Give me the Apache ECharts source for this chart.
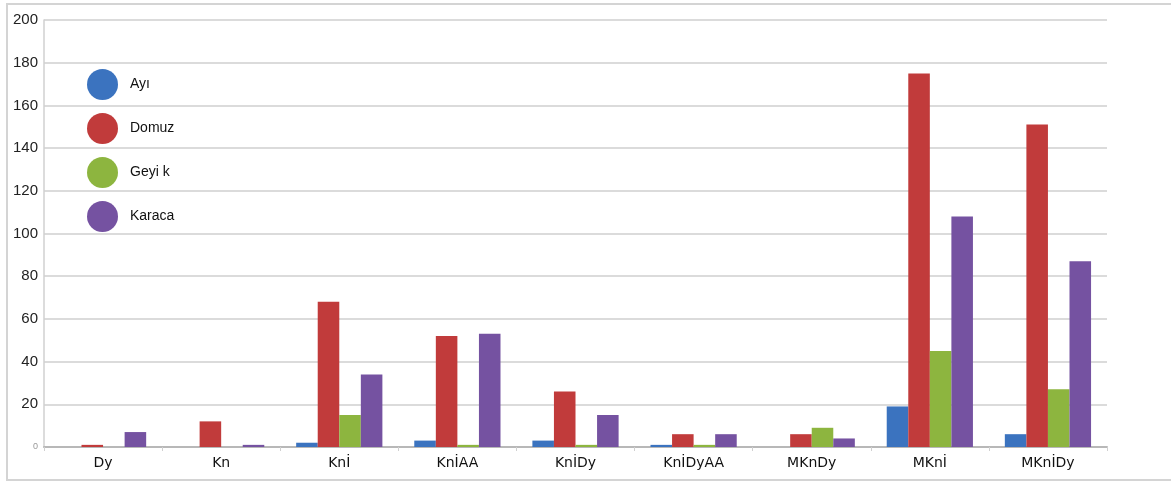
<!DOCTYPE html>
<html>
<head>
<meta charset="utf-8">
<script src="https://cdn.jsdelivr.net/npm/echarts@6/dist/echarts.min.js"></script>
<style>
html,body{margin:0;padding:0;background:#fff;}
#c{width:1171px;height:483px;}
</style>
</head>
<body>
<div id="c"></div>
<script>
var categories = ['Dy', 'Kn', 'Knİ', 'KnİAA', 'KnİDy', 'KnİDyAA', 'MKnDy', 'MKnİ', 'MKnİDy'];
var seriesNames = ['Ayı', 'Domuz', 'Geyik', 'Karaca'];
var ayi    = [0, 0, 2, 3, 3, 1, 0, 19, 6];
var domuz  = [1, 12, 68, 52, 26, 6, 6, 175, 151];
var geyik  = [0, 0, 15, 1, 1, 1, 9, 45, 27];
var karaca = [7, 1, 34, 53, 15, 6, 4, 108, 87];
var yTicks = [0, 20, 40, 60, 80, 100, 120, 140, 160, 180, 200];
var legendLabels = ['Ayı', 'Domuz', 'Geyi k', 'Karaca'];

var colors = ['#3b73bf', '#c13b3b', '#8db53f', '#7552a1'];
var allData = [ayi, domuz, geyik, karaca];

var chart = echarts.init(document.getElementById('c'));
chart.setOption({
  animation: false,
  backgroundColor: '#ffffff',
  graphic: [{
    type: 'rect',
    shape: { x: 7, y: 4, width: 1170, height: 476 },
    style: { fill: 'none', stroke: '#d4d4d4', lineWidth: 2 },
    z: -1
  }],
  grid: { left: 44, right: 64, top: 20, bottom: 36, containLabel: false },
  legend: {
    orient: 'vertical',
    left: 82,
    top: 64,
    icon: 'circle',
    itemWidth: 31,
    itemHeight: 31,
    itemGap: 13,
    data: seriesNames,
    formatter: function (n) { return legendLabels[seriesNames.indexOf(n)]; },
    textStyle: { fontFamily: 'Liberation Sans, Arial, sans-serif', fontSize: 14, color: '#111', padding: [0, 0, 0, 7] }
  },
  xAxis: {
    type: 'category',
    data: categories,
    axisLine: { show: true, lineStyle: { color: '#b8b8b8', width: 2 } },
    axisTick: { show: true, alignWithLabel: false, length: 4, lineStyle: { color: '#d0d0d0' } },
    axisLabel: { fontFamily: 'DejaVu Sans, sans-serif', fontSize: 14, color: '#111', margin: 9 }
  },
  yAxis: {
    type: 'value',
    min: 0, max: 200, interval: 20,
    axisLine: { show: true, lineStyle: { color: '#d0d0d0', width: 1.5 } },
    axisTick: { show: false },
    splitLine: { lineStyle: { color: '#cfcfcf', width: 1.5 } },
    axisLabel: {
      margin: 6,
      fontFamily: 'Liberation Sans, Arial, sans-serif', fontSize: 15, color: '#222',
      formatter: function (v) { return v === 0 ? '{s|' + yTicks[0] + '}' : String(v); },
      rich: { s: { fontSize: 9, color: '#999' } }
    }
  },
  series: seriesNames.map(function (name, i) {
    return {
      name: name,
      type: 'bar',
      data: allData[i],
      barGap: '0%',
      barCategoryGap: '27%',
      itemStyle: { color: colors[i] }
    };
  })
});
</script>
</body>
</html>
